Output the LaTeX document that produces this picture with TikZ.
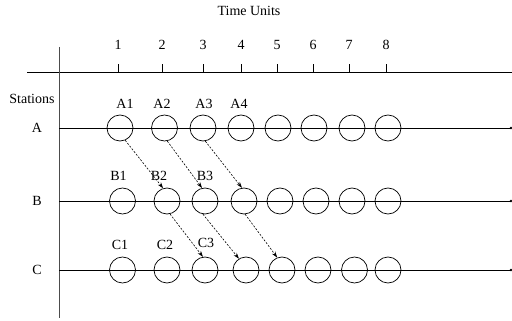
\documentclass[tikz,border=0pt]{standalone}
\usepackage{fontspec}
\setmainfont{Liberation Serif}
\usetikzlibrary{arrows.meta}
\begin{document}
\begin{tikzpicture}[x=1pt,y=-1pt,
  lbl/.style={font=\fontsize{14}{16}\selectfont, inner sep=0},
  slot/.style={circle,draw,minimum size=26pt,inner sep=0,line width=0.7pt},
  flow/.style={-{Stealth[length=6pt,width=4pt]},dash pattern=on 2pt off 1.5pt,line width=0.6pt},
  axisline/.style={line width=0.8pt},
  rowline/.style={line width=0.8pt}]
\useasboundingbox (0,0) rectangle (512,321);
% axes
\coordinate (hl) at (27,72);
\coordinate (hr) at (512,72);
\coordinate (vt) at (59,47);
\coordinate (vb) at (59,318);
\draw[axisline] (hl) -- (hr);
\draw[axisline,black!70] (vt) -- (vb);
\node[lbl] (title) at (249,11) {Time Units};
% ticks and numbers
\foreach \x [count=\i] in {118,162,203,241,277,313,349,386}{
  \coordinate (t\i) at (\x,72);
  \coordinate (tt\i) at (\x,64);
  \draw[line width=0.6pt] (t\i) -- (tt\i);
  \node[lbl] (n\i) at (\x,45) {\i};
}
% station labels
\node[lbl] (st) at (32,99) {Stations};
\node[lbl] (lA) at (37,128) {A};
\node[lbl] (lB) at (37,201) {B};
\node[lbl] (lC) at (37,270) {C};
% row lines
\foreach \r/\y in {A/128,B/201,C/270}{
  \coordinate (\r s) at (59,\y);
  \coordinate (\r e) at (511,\y);
  \draw[rowline] (\r s) -- (\r e);
  \fill (\r e) circle (1.3pt);
}
% circles
\foreach \x [count=\i] in {120,164.5,203,241,278,314,352,388}{
  \node[slot] (a\i) at (\x,128) {};
}
\foreach \x [count=\i] in {122.5,167,205,244,280,316,352,388}{
  \node[slot] (b\i) at (\x,201) {};
}
\foreach \x [count=\i] in {122.5,167,205,246,282,318,354.5,388}{
  \node[slot] (c\i) at (\x,270) {};
}
% slot labels
\node[lbl] (A1) at (125,104) {A1};
\node[lbl] (A2) at (162,104) {A2};
\node[lbl] (A3) at (204,104) {A3};
\node[lbl] (A4) at (239,104) {A4};
\node[lbl] (B1) at (118.5,176) {B1};
\node[lbl] (B2) at (159,176) {B2};
\node[lbl] (B3) at (205,176) {B3};
\node[lbl] (C1) at (120,245) {C1};
\node[lbl] (C2) at (165,245) {C2};
\node[lbl] (C3) at (206,243) {C3};
% flows
\draw[flow] (a1.-67) -- (b2.107);
\draw[flow] (a2.-78) -- (b3.103);
\draw[flow] (a3.-80) -- (b4.99);
\draw[flow] (b2.-77) -- (c3.99);
\draw[flow] (b3.-99) -- (c4.122);
\draw[flow] (b4.-85) -- (c5.111);
\end{tikzpicture}
\end{document}
